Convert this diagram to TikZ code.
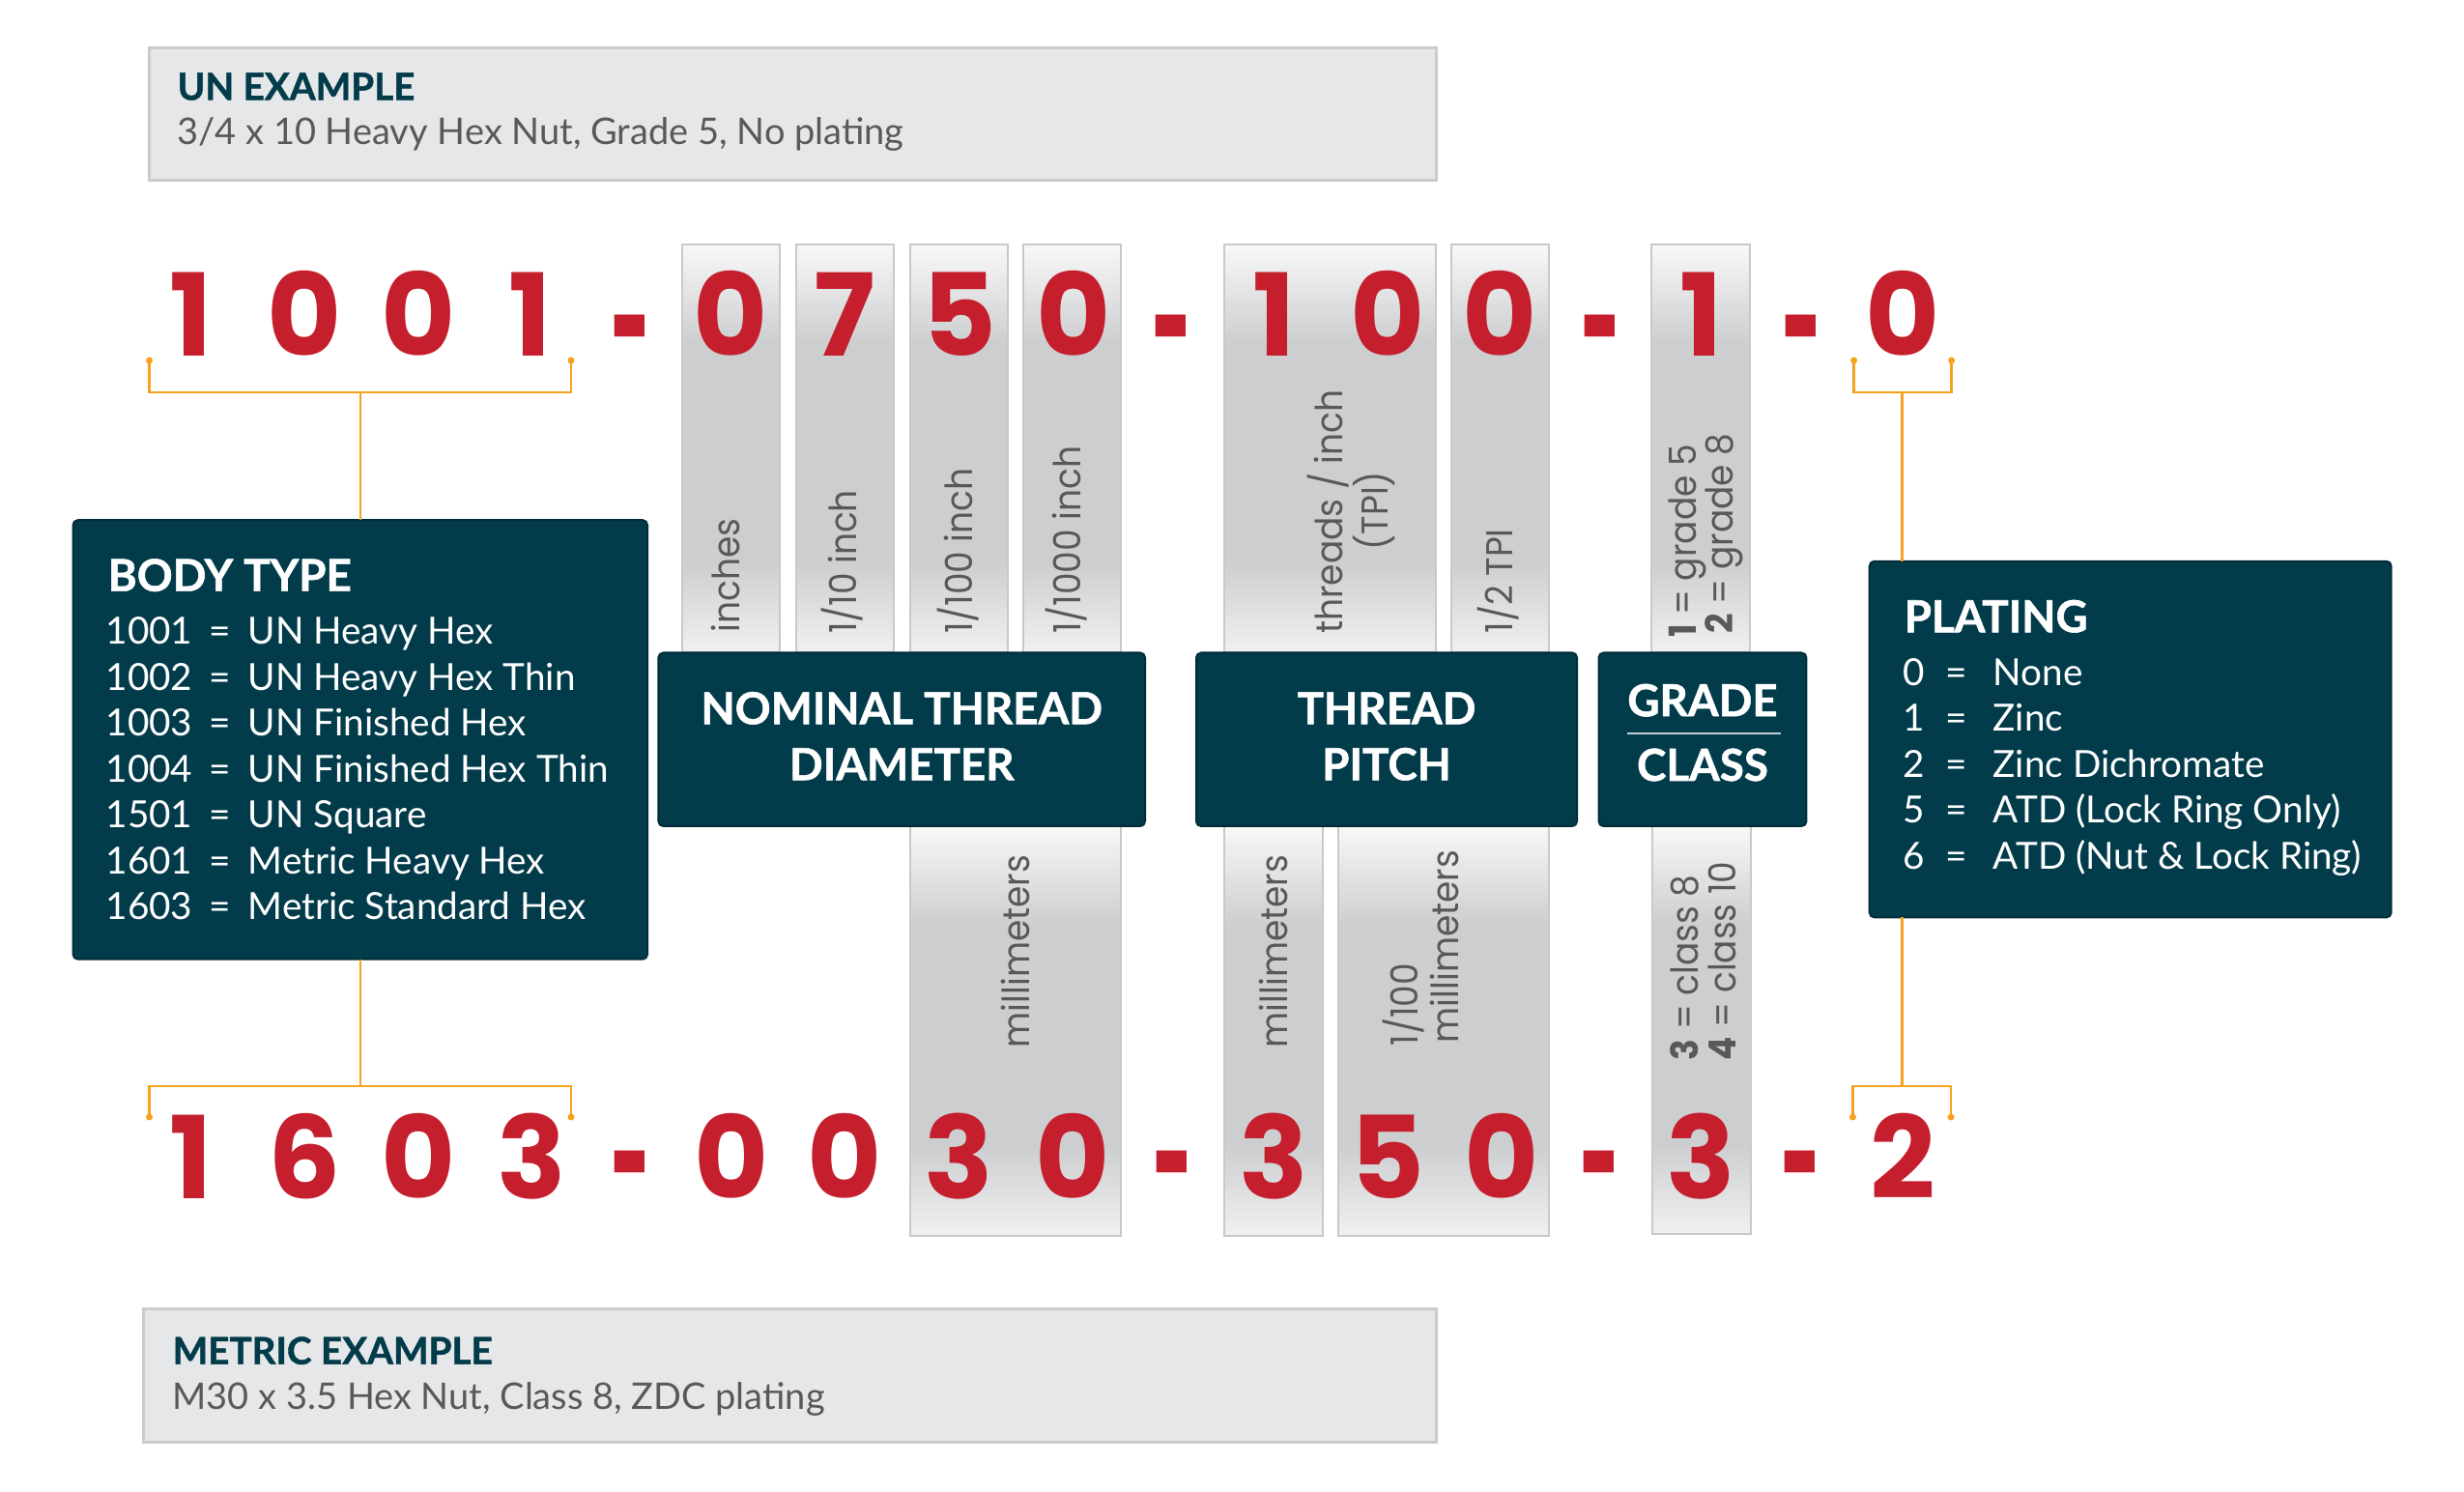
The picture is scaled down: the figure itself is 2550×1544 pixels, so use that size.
\documentclass[tikz,border=0pt]{standalone}
\usepackage{fontspec}
\setmainfont{Lato}
\newfontfamily\headfont[BoldFeatures={FakeBold=1.2}]{Lato}
\newfontfamily\digfont{Poppins}
\newfontfamily\vlfont[FakeStretch=0.93]{Poppins}
\usetikzlibrary{fit}
\definecolor{darkteal}{HTML}{023C4B}
\definecolor{codered}{HTML}{C51F2E}
\definecolor{lineorange}{HTML}{F5A21E}
\definecolor{labgray}{HTML}{58595B}
\definecolor{exfill}{HTML}{E6E7E8}
\definecolor{exline}{HTML}{CBCBCB}
\definecolor{colgray}{HTML}{CDCED0}
\definecolor{coltop}{HTML}{F8F8F8}
\definecolor{colbot}{HTML}{F1F1F2}
\definecolor{colline}{HTML}{C9C9CA}
\pgfdeclareverticalshading{colshade}{100bp}{color(0bp)=(colbot); color(25bp)=(colbot); color(36bp)=(colgray); color(63bp)=(colgray); color(75bp)=(coltop); color(100bp)=(coltop)}
\newcommand{\topdash}{\raisebox{-2.5mm}{\scalebox{0.6}[1.35]{-}}}
\newcommand{\botdash}{\raisebox{-1.8mm}{\scalebox{0.6}[1.35]{-}}}
\begin{document}
\begin{tikzpicture}[x=0.1mm,y=-0.1mm,
  exbox/.style={draw=exline, line width=0.3mm, fill=exfill, inner sep=0pt, outer sep=0pt},
  colbox/.style={draw=colline, line width=0.2mm, shade, shading=colshade, inner sep=0pt, outer sep=0pt},
  darkbox/.style={fill=darkteal, draw=darkteal!75!black, line width=0.2mm, rounded corners=0.5mm, inner sep=0pt, outer sep=0pt},
  extitle/.style={font=\headfont\bfseries\fontsize{11pt}{13pt}\selectfont, text=darkteal, anchor=base west, inner sep=0pt},
  exsub/.style={font=\fontsize{10.8pt}{13pt}\selectfont, text=labgray, anchor=base west, inner sep=0pt},
  boxtitle/.style={font=\headfont\bfseries\fontsize{13pt}{15pt}\selectfont, text=white, anchor=base west, inner sep=0pt},
  boxhead/.style={font=\headfont\bfseries\fontsize{13pt}{15pt}\selectfont, text=white, anchor=base, inner sep=0pt},
  rowtxt/.style={font=\fontsize{11pt}{13pt}\selectfont, text=white, anchor=base west, inner sep=0pt},
  dig/.style={font=\digfont\bfseries\fontsize{33.7pt}{40pt}\selectfont, text=codered, anchor=base, inner sep=0pt},
  vlab/.style={font=\vlfont\fontsize{11pt}{13pt}\selectfont, text=labgray, rotate=90, anchor=base west, inner sep=0pt},
  vlabc/.style={font=\vlfont\fontsize{11pt}{13pt}\selectfont, text=labgray, rotate=90, anchor=base, inner sep=0pt},
  oline/.style={draw=lineorange, line width=0.25mm},
  odot/.style={fill=lineorange}
]
\useasboundingbox (0,0) rectangle (2550,1544);

% example boxes
\node[exbox, fit={(154.5,49.2) (1486.7,186.7)}] (unbox) {};
\node[extitle] (untitle) at (183,103.4) {UN EXAMPLE};
\node[exsub] (unsub) at (183,150) {3/4 x 10 Heavy Hex Nut, Grade 5, No plating};
\node[exbox, fit={(148.7,1354) (1486.6,1492.3)}] (metbox) {};
\node[extitle] (mettitle) at (178,1411.7) {METRIC EXAMPLE};
\node[exsub] (metsub) at (178,1458.3) {M30 x 3.5 Hex Nut, Class 8, ZDC plating};

% top columns
\node[colbox, fit={(705.8,253.5) (807.4,675.5)}] (cA) {};
\node[colbox, fit={(823.7,253.5) (925.3,675.5)}] (cB) {};
\node[colbox, fit={(941.6,253.5) (1043.2,675.5)}] (cC) {};
\node[colbox, fit={(1058.7,253.5) (1160.4,675.5)}] (cD) {};
\node[colbox, fit={(1267,253.5) (1486.4,675.5)}] (cE) {};
\node[colbox, fit={(1501.7,253.5) (1603.3,675.5)}] (cF) {};
\node[colbox, fit={(1709.4,253.5) (1811.4,675.5)}] (cG) {};
% bottom columns
\node[colbox, fit={(941.5,855) (1160,1279)}] (dA) {};
\node[colbox, fit={(1267.3,855) (1368.7,1279)}] (dB) {};
\node[colbox, fit={(1384.7,855) (1603.4,1279)}] (dC) {};
\node[colbox, fit={(1710,855) (1812,1277)}] (dD) {};

% vertical labels, top
\node[vlab] (lA) at (765,655) {inches};
\node[vlab] (lB) at (886.7,656.7) {1/10 inch};
\node[vlab] (lC) at (1006.7,656.7) {1/100 inch};
\node[vlab] (lD) at (1118.3,656.7) {1/1000 inch};
\node[vlab] (lE1) at (1389,656.3) {threads / inch};
\node[vlabc] (lE2) at (1436,528.7) {(TPI)};
\node[vlab] (lF) at (1565.5,656) {1/2 TPI};
\node[vlab] (lG1) at (1755,660.4) {\bfseries 1\mdseries\ = grade 5};
\node[vlab] (lG2) at (1793,656) {\bfseries 2\mdseries\ = grade 8};
% vertical labels, bottom
\node[vlab] (mA) at (1065.8,1085) {millimeters};
\node[vlab] (mB) at (1332.4,1085) {millimeters};
\node[vlab] (mC1) at (1467.6,1083) {1/100};
\node[vlab] (mC2) at (1509,1080) {millimeters};
\node[vlab] (mD1) at (1757.8,1098) {\bfseries 3\mdseries\ = class 8};
\node[vlab] (mD2) at (1796,1098) {\bfseries 4\mdseries\ = class 10};

% dark boxes
\node[darkbox, fit={(75.6,538.2) (670,992.7)}] (body) {};
\node[darkbox, fit={(681.4,675.5) (1185,855)}] (nominal) {};
\node[darkbox, fit={(1238,675.5) (1632,855)}] (pitch) {};
\node[darkbox, fit={(1654.5,675.5) (1869.4,855)}] (grade) {};
\node[darkbox, fit={(1934.7,580.8) (2474.7,949.4)}] (plating) {};

% box headings
\node[boxtitle] (bodyt) at (111,611.7) {BODY TYPE};
\foreach \n/\t [count=\i] in {1001/UN Heavy Hex, 1002/UN Heavy Hex Thin, 1003/UN Finished Hex, 1004/UN Finished Hex Thin, 1501/UN Square, 1601/Metric Heavy Hex, 1603/Metric Standard Hex}{
  \node[rowtxt] (bn\i) at (109,{666.7+47.5*(\i-1)}) {\n};
  \node[rowtxt] (be\i) at (216,{666.7+47.5*(\i-1)}) {=};
  \node[rowtxt] (bt\i) at (256,{666.7+47.5*(\i-1)}) {\t};
}
\node[boxhead] (nomt1) at (933.2,749.4) {NOMINAL THREAD};
\node[boxhead] (nomt2) at (933.2,807.3) {DIAMETER};
\node[boxhead] (pitt1) at (1435,749.4) {THREAD};
\node[boxhead] (pitt2) at (1435,807.3) {PITCH};
\node[boxhead] (grat1) at (1762,741.2) {GRADE};
\node[boxhead] (grat2) at (1762,808) {CLASS};
\draw[draw=white!75!darkteal, line width=0.15mm] (1684,759) -- (1843,759);
\node[boxtitle] (platt) at (1970,654.3) {PLATING};
\foreach \n/\t [count=\i] in {0/None, 1/Zinc, 2/Zinc Dichromate, 5/{ATD (Lock Ring Only)}, 6/{ATD (Nut \& Lock Ring)}}{
  \node[rowtxt] (pn\i) at (1969,{709.4+47.4*(\i-1)}) {\n};
  \node[rowtxt] (pe\i) at (2013,{709.4+47.4*(\i-1)}) {=};
  \node[rowtxt] (pt\i) at (2062,{709.4+47.4*(\i-1)}) {\t};
}

% big digits, top row
\foreach \d/\x [count=\i] in {1/197.5, 0/315, 0/432.7, 1/548.7, \topdash/653, 0/756.5, 7/874, 5/992.7, 0/1110.7, \topdash/1213.5, 1/1319, 0/1435.8, 0/1552.5, \topdash/1657, 1/1761, \topdash/1865, 0/1969.5}{
  \node[dig] (t\i) at (\x,369) {\d};
}
% big digits, bottom row
\foreach \d/\x [count=\i] in {1/197.5, 6/315, 0/432.7, 3/550, \botdash/653, 0/757, 0/874.5, 3/992.5, 0/1110.5, \botdash/1214, 3/1318.6, 5/1435.7, 0/1553.7, \botdash/1656.4, 3/1760.4, \botdash/1864.5, 2/1969.4}{
  \node[dig] (b\i) at (\x,1240) {\d};
}

% orange brackets
\coordinate (tlA) at (154.5,373);
\coordinate (tlB) at (591,373);
\coordinate (tlM) at (372.8,406);
\draw[oline] (tlA) |- (tlM) -| (tlB);
\draw[oline] (tlM) -- (body.north);
\fill[odot] (tlA) circle[radius=0.35mm];
\fill[odot] (tlB) circle[radius=0.35mm];

\coordinate (blA) at (154.5,1156);
\coordinate (blB) at (591,1156);
\coordinate (blM) at (372.8,1124);
\draw[oline] (blA) |- (blM) -| (blB);
\draw[oline] (body.south) -- (blM);
\fill[odot] (blA) circle[radius=0.35mm];
\fill[odot] (blB) circle[radius=0.35mm];

\coordinate (trA) at (1918.6,373);
\coordinate (trB) at (2019.6,373);
\coordinate (trM) at (1968.6,406);
\draw[oline] (trA) |- (trM) -| (trB);
\draw[oline] (trM) -- (trM |- plating.north);
\fill[odot] (trA) circle[radius=0.35mm];
\fill[odot] (trB) circle[radius=0.35mm];

\coordinate (brA) at (1917.4,1156);
\coordinate (brB) at (2019,1156);
\coordinate (brM) at (1968.6,1124);
\draw[oline] (brA) |- (brM) -| (brB);
\draw[oline] (brM |- plating.south) -- (brM);
\fill[odot] (brA) circle[radius=0.35mm];
\fill[odot] (brB) circle[radius=0.35mm];
\end{tikzpicture}
\end{document}
